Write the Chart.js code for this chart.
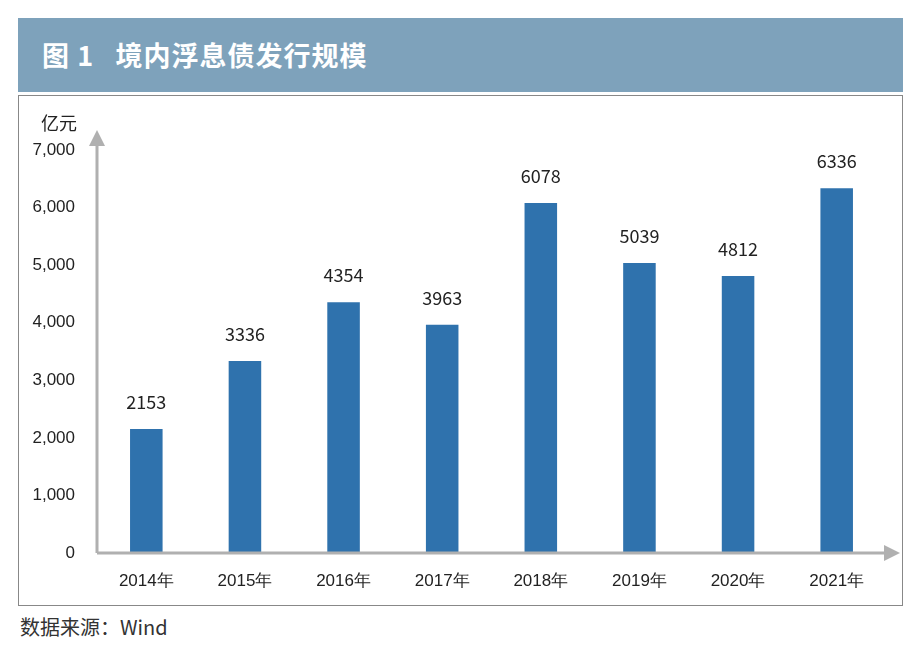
<!DOCTYPE html>
<html><head><meta charset="utf-8">
<script src="https://cdn.jsdelivr.net/npm/chart.js@4/dist/chart.umd.min.js"></script>
<style>
body{margin:0;background:#fff;font-family:"Noto Sans CJK SC","Noto Sans",sans-serif;}
#hdr{position:absolute;left:18px;top:18px;width:885px;height:74px;background:#7ea2bb;color:#fff;font-size:27px;font-weight:bold;line-height:74px;box-sizing:border-box;padding-left:24px;letter-spacing:1px}
#box{position:absolute;left:18px;top:95px;width:885px;height:511px;border:1px solid #888;box-sizing:border-box}
#src{position:absolute;left:20px;top:612px;font-size:20px;color:#333}
</style></head><body>
<div id="hdr">图 1&nbsp;&nbsp;&nbsp;境内浮息债发行规模</div>
<div id="box"><canvas id="c"></canvas></div>
<div id="src">数据来源：Wind</div>
<script>
const years = ['2014年','2015年','2016年','2017年','2018年','2019年','2020年','2021年'];
const amounts = [2153, 3336, 4354, 3963, 6078, 5039, 4812, 6336];
const unitLabel = '亿元';

const canvas = document.getElementById('c');
canvas.style.width = '883px'; canvas.style.height = '509px';

// 坐标轴箭头 + 数值标签
const decor = {
  id: 'decor',
  afterDraw(chart) {
    const ctx = chart.ctx, a = chart.chartArea;
    const x0 = chart.scales.x.left, y0 = chart.scales.y.getPixelForValue(0);
    ctx.save();
    ctx.strokeStyle = '#b0b0b0'; ctx.fillStyle = '#b0b0b0'; ctx.lineWidth = 3;
    ctx.beginPath(); ctx.moveTo(x0, y0); ctx.lineTo(x0, a.top - 8); ctx.stroke();
    ctx.beginPath(); ctx.moveTo(x0 - 8, a.top - 4); ctx.lineTo(x0 + 8, a.top - 4); ctx.lineTo(x0, a.top - 20); ctx.fill();
    ctx.beginPath(); ctx.moveTo(x0, y0); ctx.lineTo(a.right, y0); ctx.stroke();
    ctx.beginPath(); ctx.moveTo(a.right - 2, y0 - 8); ctx.lineTo(a.right - 2, y0 + 8); ctx.lineTo(a.right + 14, y0); ctx.fill();
    ctx.fillStyle = '#222'; ctx.font = '18px "Noto Sans CJK SC", sans-serif';
    ctx.textAlign = 'left'; ctx.textBaseline = 'middle';
    ctx.fillText(unitLabel, 22, 27);
    ctx.textAlign = 'center'; ctx.textBaseline = 'bottom';
    chart.getDatasetMeta(0).data.forEach((bar, i) => {
      ctx.fillText(amounts[i], bar.x, bar.y - 18);
    });
    ctx.restore();
  }
};

new Chart(canvas, {
  type: 'bar',
  data: { labels: years, datasets: [{ data: amounts, backgroundColor: '#2f72ad', barPercentage: 0.33, categoryPercentage: 1 }] },
  options: {
    responsive: false, animation: false,
    layout: { padding: { top: 54, right: 16, left: 0, bottom: 0 } },
    plugins: { legend: { display: false }, tooltip: { enabled: false } },
    scales: {
      x: {
        grid: { display: false }, border: { display: false },
        ticks: { color: '#222', font: { size: 17 }, padding: 10 },
        afterFit(s) { s.height = 52; }
      },
      y: {
        min: 0, max: 7000,
        grid: { display: false }, border: { display: false },
        ticks: { stepSize: 1000, color: '#222', font: { size: 17 }, padding: 14 },
        afterFit(s) { s.width = 78; }
      }
    }
  },
  plugins: [decor]
});
</script>
</body></html>
